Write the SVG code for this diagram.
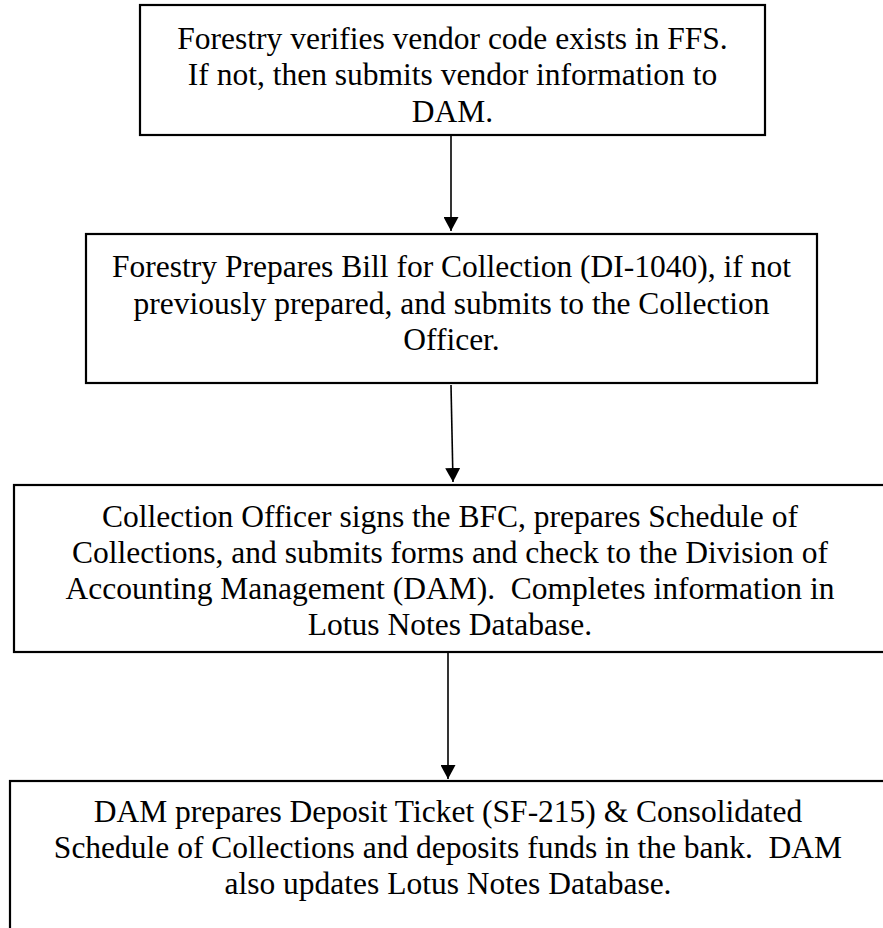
<svg xmlns="http://www.w3.org/2000/svg" width="883" height="928" viewBox="0 0 883 928">
<style>
.box{fill:#fff;stroke:#000;stroke-width:2.2}
.t{font-family:"Liberation Serif","Times New Roman",serif;font-size:31.5px;fill:#000;text-anchor:middle}
.c{stroke:#000;stroke-width:1.6;fill:none;marker-end:url(#ah)}
</style>
<defs>
<marker id="ah" markerWidth="14" markerHeight="15" refX="14" refY="7.5" orient="auto" markerUnits="userSpaceOnUse" viewBox="0 0 14 15">
<path d="M0,0 L14,7.5 L0,15 z" fill="#000"/>
</marker>
</defs>
<rect width="883" height="928" fill="#fff"/>
<g id="node1">
<rect class="box" x="140" y="5" width="625" height="130"/>
<text class="t" x="452.5" y="48.5">Forestry verifies vendor code exists in FFS.</text>
<text class="t" x="452.5" y="85">If not, then submits vendor information to</text>
<text class="t" x="452.5" y="121.5">DAM.</text>
</g>
<g id="node2">
<rect class="box" x="86" y="234" width="731" height="149"/>
<text class="t" x="451.5" y="277">Forestry Prepares Bill for Collection (DI-1040), if not</text>
<text class="t" x="451.5" y="313.5">previously prepared, and submits to the Collection</text>
<text class="t" x="451.5" y="350">Officer.</text>
</g>
<g id="node3">
<rect class="box" x="14" y="485" width="872" height="167"/>
<text class="t" x="450" y="527">Collection Officer signs the BFC, prepares Schedule of</text>
<text class="t" x="450" y="563">Collections, and submits forms and check to the Division of</text>
<text class="t" x="450" y="599" xml:space="preserve">Accounting Management (DAM).  Completes information in</text>
<text class="t" x="450" y="635">Lotus Notes Database.</text>
</g>
<g id="node4">
<rect class="box" x="10" y="781" width="890" height="170"/>
<text class="t" x="448" y="822">DAM prepares Deposit Ticket (SF-215) &amp; Consolidated</text>
<text class="t" x="448" y="858" xml:space="preserve">Schedule of Collections and deposits funds in the bank.  DAM</text>
<text class="t" x="448" y="894">also updates Lotus Notes Database.</text>
</g>
<g id="connectors">
<line class="c" x1="451" y1="135" x2="451" y2="231"/>
<line class="c" x1="451" y1="385" x2="453" y2="482"/>
<line class="c" x1="448" y1="652" x2="448" y2="779"/>
</g>
</svg>
